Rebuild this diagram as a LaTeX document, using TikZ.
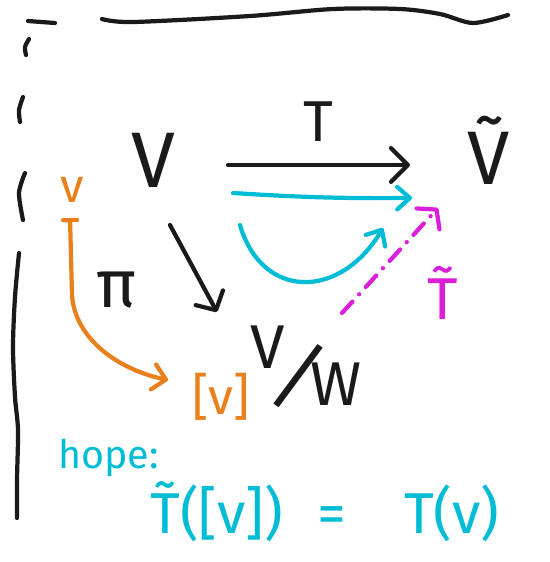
\documentclass[tikz,border=0pt]{standalone}
\usepackage{fontspec}
\setmainfont{Fira Sans}
\usepackage{tikz}
\usetikzlibrary{calc}
\usetikzlibrary{arrows.meta}
\definecolor{inkblack}{RGB}{26,26,26}
\definecolor{inkcyan}{RGB}{0,188,212}
\definecolor{inkorange}{RGB}{234,128,28}
\definecolor{inkmagenta}{RGB}{218,30,218}
\tikzset{
    pen/.style={
        line width=3pt,
        line cap=round,
        line join=round
    },
    % black hand-drawn arrows
    blackarrow/.style={
        pen, inkblack,
        -{Straight Barb[length=12pt, width=24pt, round]}
    },
    % cyan arrows
    cyanarrow/.style={
        pen, inkcyan,
        -{Straight Barb[length=9pt, width=16pt, round]}
    },
    % orange maps-to arrow
    orangearrow/.style={
        pen, inkorange,
        {Bar[width=10pt, round]}-{Straight Barb[length=9pt, width=18pt, round]}
    },
    % magenta dash-dot arrow
    magentaarrow/.style={
        pen, inkmagenta,
        dash pattern=on 11pt off 7pt on 0.1pt off 7pt,
        -{Straight Barb[length=9pt, width=22pt, round, sep=0pt]}
    },
    lbl/.style={inner sep=0pt, text=inkblack}
}

\begin{document}
\begin{tikzpicture}[x=0.025cm, y=-0.025cm]
    \useasboundingbox (0,0) rectangle (549,562);

    % ===================== frame strokes =====================
    \draw[pen, inkblack] (28,21) to (55,23);
    \draw[pen, inkblack] plot[smooth] coordinates {(102,19) (133,22) (250,16) (333,9) (400,9) (440,14) (473,23) (508,15)};
    \draw[pen, inkblack] plot[smooth] coordinates {(29,39) (25,47) (26,55)};
    \draw[pen, inkblack] plot[smooth] coordinates {(23,97) (19,110) (20,122)};
    \draw[pen, inkblack] plot[smooth] coordinates {(25,173) (19,193) (23,220)};
    \draw[pen, inkblack] plot[smooth] coordinates {(19,253) (15,297) (13,347) (15,397) (18,430) (17,480) (17,518)};

    % ===================== labels =====================
    \node[lbl, font=\fontsize{56}{60}\selectfont] (V) at (153,160) {V};
    \node[lbl, font=\fontsize{54}{58}\selectfont] (Vt) at (489,150) {\~{V}};
    \node[lbl, font=\fontsize{41}{46}\selectfont] (Tlab) at (318,122) {T};
    \node[lbl, font=\fontsize{48}{52}\selectfont] (pilab) at (117,290) {π};
    \node[lbl, font=\fontsize{42}{46}\selectfont, text=inkmagenta] (Ttlab) at (443,293) {\~{T}};
    \node[lbl, font=\fontsize{34}{38}\selectfont, text=inkorange] (vdot) at (72,190) {v};
    \node[lbl, font=\fontsize{36}{40}\selectfont, text=inkorange] (cls) at (221,397) {[v]};
    \node[lbl, font=\fontsize{44}{48}\selectfont] (quot) at (306,372)
        {\raisebox{0.3em}{V}\kern-0.32em\raisebox{-0.12em}{\rotatebox{-22}{\scalebox{1.3}{/}}}\kern-0.34em\raisebox{-0.3em}{W}};
    \node[lbl, font=\fontsize{28}{32}\selectfont, text=inkcyan, anchor=base west] (hope) at (58,468) {hope:};
    \node[lbl, font=\fontsize{41}{44}\selectfont, text=inkcyan, anchor=base west] (eqn) at (150,533)
        {\~{T}([v])\hspace{0.6em}=\hspace{1em}T(v)};

    % ===================== arrows =====================
    % T : V -> V~
    \draw[blackarrow] ($(V.center)+(75,5)$) -- ($(Vt.center)+(-79,15)$);
    % pi : V -> V/W
    \draw[blackarrow, -{Straight Barb[length=10pt, width=22pt, round]}]
        ($(V.center)+(17,65)$) -- ($(quot.center)+(-89,-60)$);
    % cyan: straight and round-about
    \draw[cyanarrow] ($(V.center)+(80,33)$) to[bend right=2] ($(Vt.center)+(-77,48)$);
    \draw[cyanarrow] ($(V.center)+(87,65)$) .. controls +(22,75) and +(-43,72) .. ($(Vt.center)+(-106,78)$);
    % T~ : V/W -> V~
    \draw[magentaarrow] ($(quot.center)+(36,-59)$) -- ($(Vt.center)+(-51,58)$);
    % v |-> [v]
    \draw[orangearrow] ($(vdot.center)+(-2,28)$) -- ($(vdot.center)+(0,105)$)
        .. controls +(3,45) and +(-48,-10) .. ($(cls.center)+(-53,-17)$);
\end{tikzpicture}
\end{document}
